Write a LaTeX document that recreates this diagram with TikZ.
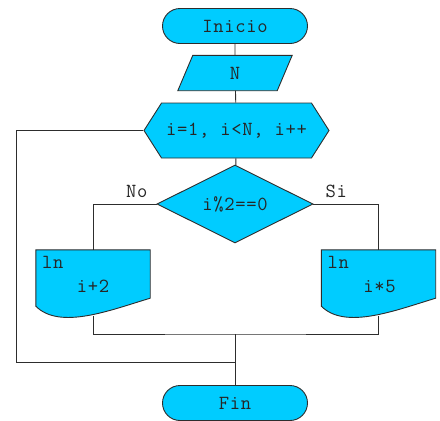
\documentclass[tikz,border=0pt]{standalone}
\usepackage{fontspec}
\setmonofont{Latin Modern Mono}[LetterSpace=3.5]
\usetikzlibrary{shapes.geometric,shapes.misc,shapes.symbols,positioning,backgrounds}
\definecolor{flujo}{RGB}{0,204,255}
\definecolor{linea}{RGB}{45,45,45}
\begin{document}
\begin{tikzpicture}[x=1pt,y=-1pt,
  every node/.style={font=\ttfamily\fontsize{20}{22}\selectfont,text=black!85},
  forma/.style={draw=linea,line width=0.9pt,fill=flujo,inner sep=0pt},
  term/.style={forma,rounded rectangle,minimum width=145pt,minimum height=35pt},
  ciclo/.style={forma,signal,signal to=west and east,signal pointer angle=115,
    minimum width=185pt,minimum height=55pt},
  decision/.style={forma,diamond,aspect=2,minimum width=156pt,minimum height=78pt},
  caja/.style={inner sep=0pt,minimum width=114pt,minimum height=56pt},
  lnk/.style={draw=linea,line width=0.9pt}]
  \useasboundingbox (0,0) rectangle (440,421);
  \node[term] (ini) at (235,26) {Inicio};
  \node[inner sep=0pt,minimum width=114pt,minimum height=35pt] (ent) at (235,73) {N};
  \node[ciclo] (hex) at (236.5,130.5) {i=1, i<N, i++};
  \node[decision] (dia) at (235,204) {i\%2==0};
  \node[above left=6pt and 9pt of dia.west,inner sep=0pt] (no) {No};
  \node[above right=6pt and 12pt of dia.east,inner sep=0pt] (si) {Si};
  % documentos
  \node[caja] (docL) at (93,278) {};
  \node[anchor=north west,inner sep=0pt] (lnL) at ([shift={(6,6)}]docL.north west) {ln};
  \node (txtL) at (93,286) {i+2};
  \node[caja] (docR) at (378.5,278) {};
  \node[anchor=north west,inner sep=0pt] (lnR) at ([shift={(6,6)}]docR.north west) {ln};
  \node (txtR) at (379.5,287) {i*5};
  \node[term] (fin) at (235,403) {Fin};
  \begin{scope}[on background layer]
    \filldraw[draw=linea,line width=0.9pt,fill=flujo] (ent.south west)
      -- ([xshift=15pt]ent.north west) -- (ent.north east)
      -- ([xshift=-15pt]ent.south east) -- cycle;
    \foreach \d in {docL,docR}
      \filldraw[draw=linea,line width=0.9pt,fill=flujo] (\d.south west) -- (\d.north west)
        -- (\d.north east) -- ([yshift=8pt]\d.south east)
        .. controls +(-40,12) and +(24,24) .. (\d.south west) -- cycle;
  \end{scope}
  \coordinate (outL) at ([yshift=-9.6pt]docL.south);
  \coordinate (outR) at ([yshift=-9.6pt]docR.south);
  \coordinate (jn) at (235,334);
  \coordinate (lc) at (16,362);
  \coordinate (mg) at (235,362);
  % conectores
  \draw[lnk] (ini) -- (ent);
  \draw[lnk] (ent) -- (hex);
  \draw[lnk] (hex) -- (dia);
  \draw[lnk] (dia.west) -| (docL.north);
  \draw[lnk] (dia.east) -| (docR.north);
  \draw[lnk] (outL) |- (jn) -| (outR);
  \draw[lnk] (jn) -- (fin);
  \draw[lnk] (hex.west) -| (lc) -- (mg);
\end{tikzpicture}
\end{document}
